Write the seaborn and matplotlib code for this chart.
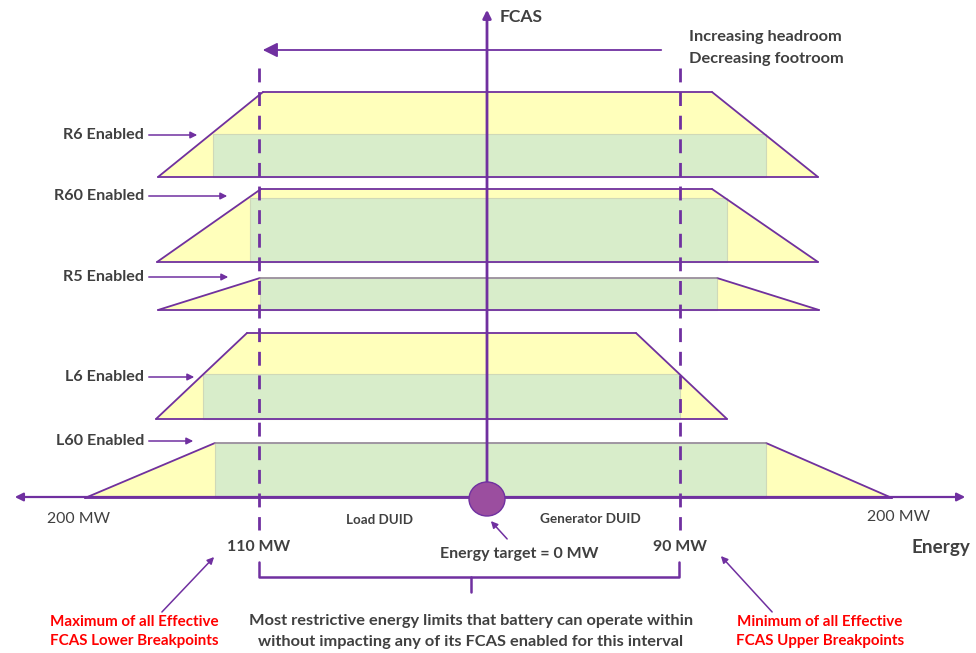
import matplotlib.pyplot as plt
import seaborn as sns
from matplotlib.patches import Ellipse

sns.set_style('white')
plt.rcParams['font.family'] = ['Lato', 'DejaVu Sans']

# --- diagram data (canvas units, y grows downward) ---
servicios = ['R6 Enabled', 'R60 Enabled', 'R5 Enabled', 'L6 Enabled', 'L60 Enabled']
y_base = [177, 262, 310, 419, 498]
y_tope = [92, 189, 278, 333, 443]
x_base_izq = [158, 157, 158, 156, 85]
x_tope_izq = [263, 261, 260, 247, 215]
x_tope_der = [712, 712, 717, 636, 766]
x_base_der = [818, 818, 819, 727, 892]
verde_izq = [213, 250, 260, 203, 215]
verde_der = [766, 727, 717, 680, 766]
verde_tope = [134, 198, 278, 374, 443]
borde_tope_gris = [False, False, True, False, True]
etiqueta_y = [135, 196, 277, 377, 441]
flecha_fin = [200, 230, 231, 197, 196]

limite_inf_mw = 110
limite_sup_mw = 90
x_limite_inf = 259
x_limite_sup = 680
x_eje_fcas = 487
y_eje_energia = 497

morado = '#7030A0'
amarillo = '#FFFFBB'
verde = '#D8EDCA'
gris_texto = '#404040'

fig, ax = plt.subplots(figsize=(9.76, 6.53), dpi=100)
fig.subplots_adjust(0, 0, 1, 1)
ax.set_xlim(0, 976)
ax.set_ylim(653, 0)
ax.axis('off')

# Trapezoides de cada servicio FCAS
for i, nombre in enumerate(servicios):
    xs = [x_base_izq[i], x_tope_izq[i], x_tope_der[i], x_base_der[i]]
    ys = [y_base[i], y_tope[i], y_tope[i], y_base[i]]
    ax.fill(xs, ys, color=amarillo, zorder=1)
    ax.fill([verde_izq[i], verde_izq[i], verde_der[i], verde_der[i]],
            [y_base[i], verde_tope[i], verde_tope[i], y_base[i]],
            facecolor=verde, edgecolor='#CFD9B8', lw=0.8, zorder=2)
    # contorno
    ax.plot([x_base_izq[i], x_tope_izq[i]], [y_base[i], y_tope[i]], color=morado, lw=1.3, zorder=3)
    ax.plot([x_tope_der[i], x_base_der[i]], [y_tope[i], y_base[i]], color=morado, lw=1.3, zorder=3)
    ax.plot([x_base_izq[i], x_base_der[i]], [y_base[i], y_base[i]], color=morado, lw=1.3, zorder=3)
    color_tope = '#9A8FA0' if borde_tope_gris[i] else morado
    ax.plot([x_tope_izq[i], x_tope_der[i]], [y_tope[i], y_tope[i]], color=color_tope, lw=1.3, zorder=3)
    # etiqueta y flecha
    ax.text(144, etiqueta_y[i], nombre, ha='right', va='center', fontsize=11.6,
            fontweight='bold', color=gris_texto)
    ax.annotate('', xy=(flecha_fin[i], etiqueta_y[i]), xytext=(146, etiqueta_y[i]),
                arrowprops=dict(arrowstyle='-|>', color=morado, lw=1.1, mutation_scale=10))

# Ejes del diagrama
ax.annotate('', xy=(968, y_eje_energia), xytext=(12, y_eje_energia),
            arrowprops=dict(arrowstyle='<|-|>', color=morado, lw=1.6, mutation_scale=12), zorder=4)
ax.annotate('', xy=(x_eje_fcas, 7), xytext=(x_eje_fcas, y_eje_energia),
            arrowprops=dict(arrowstyle='-|>', color=morado, lw=2, mutation_scale=12), zorder=4)
ax.add_patch(Ellipse((x_eje_fcas, 499), 36, 34, facecolor='#9B4E9F', edgecolor=morado, lw=1, zorder=5))

# Lineas punteadas de limites
for xl in [x_limite_inf, x_limite_sup]:
    ax.plot([xl, xl], [68, 530], color=morado, lw=2, ls=(0, (5, 3.5)), zorder=4)

# Flecha superior
ax.annotate('', xy=(260, 50), xytext=(664, 50),
            arrowprops=dict(arrowstyle='-|>', color=morado, lw=1.3, mutation_scale=22))

ax.text(500, 17, 'FCAS', ha='left', va='center', fontsize=12.6, fontweight='bold', color=gris_texto)
ax.text(689, 37, 'Increasing headroom', ha='left', va='center', fontsize=11.8, fontweight='bold', color=gris_texto)
ax.text(689, 59, 'Decreasing footroom', ha='left', va='center', fontsize=11.8, fontweight='bold', color=gris_texto)

# Textos inferiores
ax.text(79, 519, '200 MW', ha='center', va='center', fontsize=11.4, color=gris_texto)
ax.text(899, 517, '200 MW', ha='center', va='center', fontsize=11.4, color=gris_texto)
ax.text(380, 520, 'Load DUID', ha='center', va='center', fontsize=9.6, fontweight='bold', color=gris_texto)
ax.text(590, 519, 'Generator DUID', ha='center', va='center', fontsize=9.8, fontweight='bold', color=gris_texto)
ax.text(x_limite_inf, 547, f'{limite_inf_mw} MW', ha='center', va='center', fontsize=11.4,
        fontweight='bold', color=gris_texto)
ax.text(x_limite_sup, 547, f'{limite_sup_mw} MW', ha='center', va='center', fontsize=11.4,
        fontweight='bold', color=gris_texto)
ax.text(519, 554, 'Energy target = 0 MW', ha='center', va='center', fontsize=11.5,
        fontweight='bold', color=gris_texto)
ax.annotate('', xy=(489, 519), xytext=(509, 541),
            arrowprops=dict(arrowstyle='-|>', color=morado, lw=1.1, mutation_scale=10))
ax.text(941, 547, 'Energy', ha='center', va='center', fontsize=13.6, fontweight='bold', color=gris_texto)

# Corchete
ax.plot([x_limite_inf, x_limite_inf, x_limite_sup - 1, x_limite_sup - 1], [562, 577, 577, 562],
        color=morado, lw=1.8)
ax.plot([471, 471], [577, 592], color=morado, lw=1.8)
ax.text(471, 621, 'Most restrictive energy limits that battery can operate within', ha='center',
        va='center', fontsize=11.8, fontweight='bold', color=gris_texto)
ax.text(471, 642, 'without impacting any of its FCAS enabled for this interval', ha='center',
        va='center', fontsize=11.8, fontweight='bold', color=gris_texto)

# Notas en rojo
ax.text(134, 622, 'Maximum of all Effective', ha='center', va='center', fontsize=10.9,
        fontweight='bold', color='#FF0000')
ax.text(134, 641, 'FCAS Lower Breakpoints', ha='center', va='center', fontsize=10.9,
        fontweight='bold', color='#FF0000')
ax.annotate('', xy=(216, 555), xytext=(160, 614),
            arrowprops=dict(arrowstyle='-|>', color=morado, lw=1.1, mutation_scale=10))
ax.text(820, 622, 'Minimum of all Effective', ha='center', va='center', fontsize=10.9,
        fontweight='bold', color='#FF0000')
ax.text(820, 641, 'FCAS Upper Breakpoints', ha='center', va='center', fontsize=10.9,
        fontweight='bold', color='#FF0000')
ax.annotate('', xy=(719, 554), xytext=(774, 614),
            arrowprops=dict(arrowstyle='-|>', color=morado, lw=1.1, mutation_scale=10))

fig.savefig('out.png', dpi=100, facecolor='white')
